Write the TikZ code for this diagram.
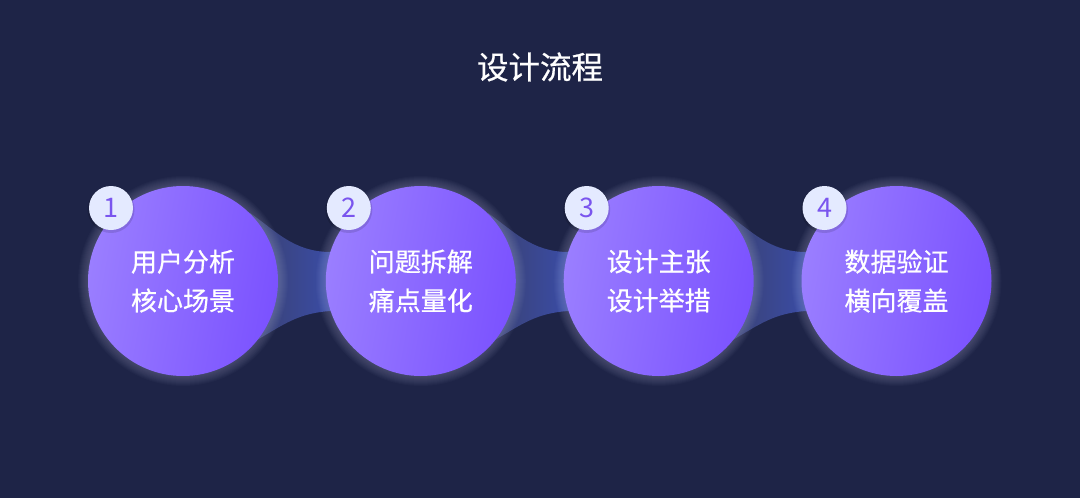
\documentclass[tikz,border=0pt]{standalone}
\usepackage{fontspec}
\setmainfont{Noto Sans CJK SC}
\newfontfamily\medfont[FakeBold=0.6]{Noto Sans CJK SC}
\definecolor{bg}{HTML}{1E2447}
\definecolor{circL}{HTML}{9A7EFF}
\definecolor{circR}{HTML}{7B52FF}
\definecolor{bridgeL}{HTML}{3A4170}
\definecolor{bridgeR}{HTML}{3A4CA6}
\definecolor{badgefill}{HTML}{E4EAFF}
\definecolor{badgetext}{HTML}{7A55EE}
\definecolor{glowc}{HTML}{DCDCFF}
\tikzset{
  stage/.style={circle, minimum size=190pt, inner sep=0pt, left color=circL, right color=circR, shading angle=80, text=white, align=center, font=\medfont\fontsize{26}{39}\selectfont},
  badge/.style={circle, minimum size=44pt, inner sep=0pt, fill=badgefill, text=badgetext, font=\fontsize{27}{27}\selectfont},
  titlestyle/.style={text=white, font=\medfont\fontsize{31.5}{31.5}\selectfont},
}
\begin{document}
\begin{tikzpicture}[x=1pt,y=-1pt]
\fill[bg] (0,0) rectangle (1080,498);
\useasboundingbox (0,0) rectangle (1080,498);
\node[titlestyle] (title) at (540,67) {设计流程};
% bridges
\foreach \a in {183,420.8,658.7}{
  \pgfmathsetmacro{\b}{\a+237.8}
  \shade[left color=bridgeL, right color=bridgeR]
    (\a+67,213) .. controls (\a+92,230) and (\a+110,252) .. (\b-90,252)
    -- (\b-90,311)
    .. controls (\a+115,313) and (\a+100,325) .. (\a+74,340) -- cycle;
}
% glows
\foreach \a in {183,420.8,658.7,896.5}{
  \foreach \i in {1,...,10}{
    \fill[glowc, opacity=0.022] (\a,281) circle (95+\i);
  }
}
\node[stage] (s1) at (183,281) {用户分析\\核心场景};
\node[stage] (s2) at (420.8,281) {问题拆解\\痛点量化};
\node[stage] (s3) at (658.7,281) {设计主张\\设计举措};
\node[stage] (s4) at (896.5,281) {数据验证\\横向覆盖};
\foreach \n/\a in {1/183,2/420.8,3/658.7,4/896.5}{
  \fill[black, opacity=0.12] (\a-72,209.5) circle (23.5);
}
\node[badge] (b1) at (111,208) {1};
\node[badge] (b2) at (348.8,208) {2};
\node[badge] (b3) at (586.7,208) {3};
\node[badge] (b4) at (824.5,208) {4};
\end{tikzpicture}
\end{document}
